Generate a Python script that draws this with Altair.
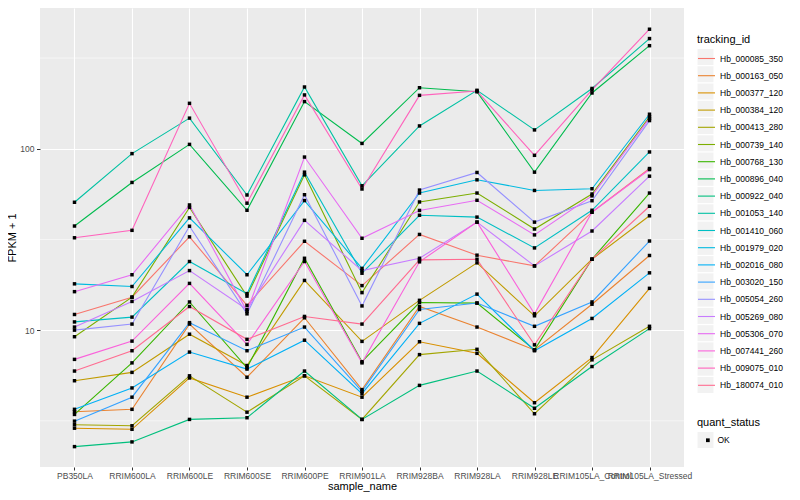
import altair as alt
import pandas as pd

samples = ["PB350LA", "RRIM600LA", "RRIM600LE", "RRIM600SE", "RRIM600PE",
           "RRIM901LA", "RRIM928BA", "RRIM928LA", "RRIM928LE",
           "RRIM105LA_Control", "RRIM105LA_Stressed"]

tracking_ids = ["Hb_000085_350", "Hb_000163_050", "Hb_000377_120", "Hb_000384_120",
                "Hb_000413_280", "Hb_000739_140", "Hb_000768_130", "Hb_000896_040",
                "Hb_000922_040", "Hb_001053_140", "Hb_001410_060", "Hb_001979_020",
                "Hb_002016_080", "Hb_003020_150", "Hb_005054_260", "Hb_005269_080",
                "Hb_005306_070", "Hb_007441_260", "Hb_009075_010", "Hb_180074_010"]

colors = ["#F8766D", "#EA8331", "#D89000", "#C09B00", "#A3A500", "#7CAE00", "#39B600",
          "#00BB4E", "#00BF7D", "#00C1A3", "#00BFC4", "#00BAE0", "#00B0F6", "#35A2FF",
          "#9590FF", "#C77CFF", "#E76BF3", "#FA62DB", "#FF62BC", "#FF6C91"]

# FPKM + 1 per sample (order of `samples`)
hb_000085_350 = [12.2, 15.2, 32.7, 13.7, 30.9, 17.6, 33.7, 25.9, 22.6, 44.7, 77.8]
hb_000163_050 = [3.55, 3.66, 10.8, 5.5, 11.7, 4.7, 13.5, 10.4, 7.78, 13.9, 25.8]
hb_000377_120 = [2.88, 2.84, 5.45, 4.27, 5.6, 4.27, 8.63, 7.45, 3.98, 7.06, 17.0]
hb_000384_120 = [5.26, 5.85, 9.5, 6.38, 18.8, 8.67, 14.6, 23.5, 12.0, 24.6, 42.7]
hb_000413_280 = [3.01, 2.97, 5.6, 3.53, 5.6, 3.22, 7.33, 7.84, 3.46, 6.86, 10.5]
hb_000739_140 = [9.2, 15.2, 47.5, 15.4, 71.8, 16.1, 50.9, 57.0, 36.1, 56.3, 150.0]
hb_000768_130 = [3.43, 6.6, 14.3, 6.2, 24.9, 6.7, 14.2, 14.1, 7.78, 24.6, 57.0]
hb_000896_040 = [37.5, 65.2, 105.7, 45.8, 182.0, 107.0, 217.0, 206.0, 74.3, 203.0, 370.0]
hb_000922_040 = [2.28, 2.42, 3.22, 3.29, 5.95, 3.22, 4.96, 5.95, 3.71, 6.3, 10.2]
hb_001053_140 = [50.7, 94.0, 147.5, 55.6, 219.0, 62.5, 133.6, 210.0, 127.0, 215.0, 405.0]
hb_001410_060 = [11.1, 11.8, 23.9, 15.9, 74.3, 20.6, 43.0, 42.0, 28.4, 45.8, 96.0]
hb_001979_020 = [18.0, 17.4, 41.6, 20.2, 51.8, 21.9, 57.0, 67.4, 58.9, 60.2, 155.0]
hb_002016_080 = [3.66, 4.8, 7.57, 6.1, 8.8, 4.47, 10.9, 15.8, 7.7, 11.6, 20.7]
hb_003020_150 = [3.15, 4.27, 11.0, 7.7, 10.4, 4.6, 13.0, 14.1, 10.5, 14.3, 31.0]
hb_005054_260 = [10.0, 10.8, 37.4, 12.3, 55.8, 13.6, 59.2, 74.0, 39.4, 51.7, 143.0]
hb_005269_080 = [10.4, 14.4, 21.3, 13.0, 40.3, 21.3, 24.9, 39.4, 22.6, 35.2, 70.6]
hb_005306_070 = [16.3, 20.2, 49.0, 12.7, 90.0, 32.1, 45.7, 52.0, 33.5, 55.0, 147.0]
hb_007441_260 = [6.9, 8.7, 18.1, 8.35, 23.9, 6.6, 23.8, 39.4, 12.3, 44.7, 76.8]
hb_009075_010 = [32.3, 35.5, 178.0, 50.1, 198.0, 60.0, 197.0, 208.0, 92.0, 211.0, 456.0]
hb_180074_010 = [5.95, 7.7, 13.5, 8.9, 11.9, 10.8, 24.4, 24.6, 8.3, 24.6, 48.2]

series_values = [hb_000085_350, hb_000163_050, hb_000377_120, hb_000384_120, hb_000413_280,
                 hb_000739_140, hb_000768_130, hb_000896_040, hb_000922_040, hb_001053_140,
                 hb_001410_060, hb_001979_020, hb_002016_080, hb_003020_150, hb_005054_260,
                 hb_005269_080, hb_005306_070, hb_007441_260, hb_009075_010, hb_180074_010]

quant_levels = ["OK"]
y_major = [10, 100]
y_minor = [3.1623, 31.623, 316.23]
y_domain = [1.76, 597]

rows = []
for tid, vals in zip(tracking_ids, series_values):
    for s, v in zip(samples, vals):
        rows.append({"tracking_id": tid, "sample_name": s, "fpkm": v, "quant_status": quant_levels[0]})
df = pd.DataFrame(rows)
minor_df = pd.DataFrame({"fpkm": y_minor})

FONT = "Liberation Sans"
KEY_BG = "#F2F2F2"

x_axis = alt.Axis(labelAngle=0, labelOverlap=False, labelBound=False, labelFlush=False,
                  domain=False, tickColor="#333333", tickSize=3, tickWidth=1,
                  labelColor="#4D4D4D", labelFontSize=8.5, labelPadding=1.5,
                  labelFont=FONT, titleFont=FONT, titleFontSize=11,
                  titleFontWeight="normal", titleColor="black", titlePadding=0,
                  grid=True, gridColor="white", gridWidth=1.1)
y_axis = alt.Axis(values=y_major, format="d", domain=False, tickColor="#333333",
                  tickSize=3.5, tickWidth=1, labelColor="#4D4D4D", labelFontSize=8.5,
                  labelPadding=2.5, labelFont=FONT, titleFont=FONT, titleFontSize=11,
                  titleFontWeight="normal", titleColor="black", titlePadding=2,
                  grid=True, gridColor="white", gridWidth=1.1)
y_scale = alt.Scale(type="log", domain=y_domain, nice=False)

x_enc = alt.X("sample_name:N", sort=samples, title="sample_name",
              scale=alt.Scale(type="point", padding=0.6), axis=x_axis)
y_enc = alt.Y("fpkm:Q", title="FPKM + 1", scale=y_scale, axis=y_axis)

common_legend = dict(orient="none", labelFontSize=8.5, labelFont=FONT, titleFont=FONT,
                     titleFontSize=11, titleFontWeight="normal", labelLimit=200)

minor = alt.Chart(minor_df).mark_rule(color="white", strokeWidth=0.55).encode(
    y=alt.Y("fpkm:Q", title="FPKM + 1", scale=y_scale, axis=y_axis))

# invisible layers that only provide the grey key backgrounds of the legends
key_bg = alt.Chart(df).mark_square(opacity=0, size=1).encode(
    x=x_enc, y=y_enc,
    fill=alt.Fill("tracking_id:N", scale=alt.Scale(domain=tracking_ids, range=[KEY_BG] * 20),
                  legend=alt.Legend(title="", legendX=657.5, legendY=41,
                                    symbolType="square", symbolSize=256, symbolOpacity=1,
                                    symbolStrokeWidth=0, rowPadding=1.26, labelOffset=4,
                                    labelExpr="''", zindex=0, **common_legend)))

key_bg2 = alt.Chart(df).mark_square(opacity=0, size=1).encode(
    x=x_enc, y=y_enc,
    fill=alt.Fill("quant_status:N", scale=alt.Scale(domain=quant_levels, range=[KEY_BG]),
                  legend=alt.Legend(title="", legendX=657.5, legendY=424,
                                    symbolType="square", symbolSize=256, symbolOpacity=1,
                                    symbolStrokeWidth=0, labelOffset=4,
                                    labelExpr="''", zindex=0, **common_legend)))

lines = alt.Chart(df).mark_line(strokeWidth=1.1).encode(
    x=x_enc, y=y_enc,
    color=alt.Color("tracking_id:N", scale=alt.Scale(domain=tracking_ids, range=colors),
                    legend=alt.Legend(title="tracking_id", legendX=657, legendY=26,
                                      symbolType="stroke", symbolSize=289, symbolStrokeWidth=1.1,
                                      rowPadding=3.2, labelColor="black", labelOffset=4,
                                      titleColor="black", titlePadding=4, zindex=1,
                                      **common_legend)))

points = alt.Chart(df).mark_point(shape="square", filled=True, size=12, color="black",
                                  opacity=1).encode(
    x=x_enc, y=y_enc,
    shape=alt.Shape("quant_status:N", scale=alt.Scale(domain=quant_levels, range=["square"]),
                    legend=alt.Legend(title="quant_status", legendX=657, legendY=409,
                                      symbolSize=14, symbolFillColor="black",
                                      symbolStrokeColor="black", symbolOffset=6.6,
                                      labelColor="black", labelOffset=5.4,
                                      titleColor="black", titlePadding=8,
                                      zindex=1, **common_legend)))

chart = alt.layer(minor, key_bg, key_bg2, lines, points).properties(
    width=644, height=459,
    autosize=alt.AutoSizeParams(type="none"),
    padding={"left": 32, "top": 0, "right": 108, "bottom": 25},
).resolve_scale(color="independent", shape="independent", fill="independent").configure(
    font=FONT, background="white"
).configure_view(
    fill="#EBEBEB", strokeWidth=0
)

chart.save("out.html", embed_options={"renderer": "svg", "actions": False})
